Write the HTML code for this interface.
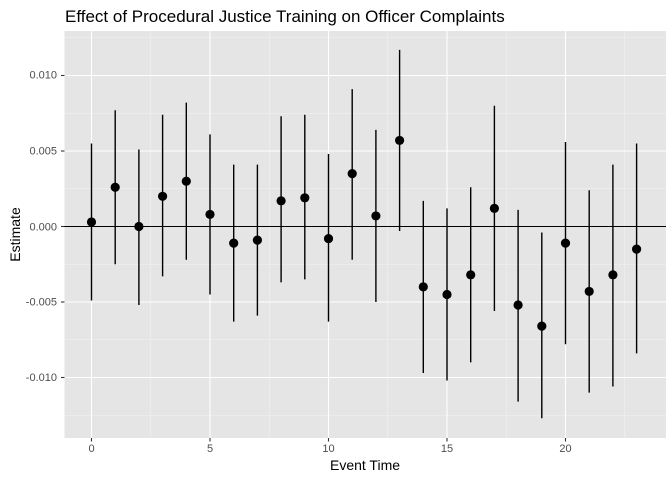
<!DOCTYPE html>
<html><head><style>
body{margin:0;background:#fff;}
svg text{font-family:"Liberation Sans",Arial,sans-serif;}
</style></head><body>
<svg id="s" width="672" height="480" xmlns="http://www.w3.org/2000/svg">
<rect x="0" y="0" width="672" height="480" fill="#fff"/>
<rect x="64.5" y="31" width="601.5" height="407" fill="#e5e5e5"/>
<g id="grid"></g>
<line x1="64.5" x2="666" y1="226.5" y2="226.5" stroke="#000" stroke-width="1.1"/>
<g id="data"></g>
<g font-size="11" fill="#4d4d4d" text-anchor="end">
<text x="57" y="78.5">0.010</text>
<text x="57" y="154.5">0.005</text>
<text x="57" y="230.5">0.000</text>
<text x="57" y="305.5">-0.005</text>
<text x="57" y="381">-0.010</text>
</g>
<g font-size="11" fill="#4d4d4d" text-anchor="middle">
<text x="91.5" y="452">0</text>
<text x="210" y="452">5</text>
<text x="328.5" y="452">10</text>
<text x="447" y="452">15</text>
<text x="565.5" y="452">20</text>
</g>
<text x="365" y="470" font-size="14" text-anchor="middle" fill="#000">Event Time</text>
<text transform="translate(20,234.5) rotate(-90)" font-size="14" text-anchor="middle" fill="#000">Estimate</text>
<text x="65" y="22" font-size="17" fill="#000">Effect of Procedural Justice Training on Officer Complaints</text>
</svg>
<script>
var NS="http://www.w3.org/2000/svg";
function el(p,t,a){var e=document.createElementNS(NS,t);for(var k in a)e.setAttribute(k,a[k]);p.appendChild(e);}
var g=document.getElementById("grid"),d=document.getElementById("data");
function Y(v){return 226.5-v*15100;}function X(t){return 91.5+t*23.7;}
[-0.0125,-0.0075,-0.0025,0.0025,0.0075,0.0125].forEach(function(v){el(g,"line",{x1:64.5,x2:666,y1:Y(v),y2:Y(v),stroke:"#f2f2f2","stroke-width":0.6});});
[2.5,7.5,12.5,17.5,22.5].forEach(function(t){el(g,"line",{y1:31,y2:438,x1:X(t),x2:X(t),stroke:"#f2f2f2","stroke-width":0.6});});
[-0.01,-0.005,0.005,0.01].forEach(function(v){el(g,"line",{x1:64.5,x2:666,y1:Y(v),y2:Y(v),stroke:"#fff","stroke-width":1.1});});
[0,5,10,15,20].forEach(function(t){el(g,"line",{y1:31,y2:438,x1:X(t),x2:X(t),stroke:"#fff","stroke-width":1.1});el(g,"line",{y1:438,y2:441.5,x1:X(t),x2:X(t),stroke:"#333","stroke-width":1.1});});
[-0.01,-0.005,0,0.005,0.01].forEach(function(v){el(g,"line",{x1:61,x2:64.5,y1:Y(v),y2:Y(v),stroke:"#333","stroke-width":1.1});});
var D=[[0.0003,-0.0049,0.0055],[0.0026,-0.0025,0.0077],[0.0000,-0.0052,0.0051],[0.0020,-0.0033,0.0074],[0.0030,-0.0022,0.0082],[0.0008,-0.0045,0.0061],[-0.0011,-0.0063,0.0041],[-0.0009,-0.0059,0.0041],[0.0017,-0.0037,0.0073],[0.0019,-0.0035,0.0074],[-0.0008,-0.0063,0.0048],[0.0035,-0.0022,0.0091],[0.0007,-0.0050,0.0064],[0.0057,-0.0003,0.0117],[-0.0040,-0.0097,0.0017],[-0.0045,-0.0102,0.0012],[-0.0032,-0.0090,0.0026],[0.0012,-0.0056,0.0080],[-0.0052,-0.0116,0.0011],[-0.0066,-0.0127,-0.0004],[-0.0011,-0.0078,0.0056],[-0.0043,-0.0110,0.0024],[-0.0032,-0.0106,0.0041],[-0.0015,-0.0084,0.0055]];
D.forEach(function(r,i){var x=X(i);el(d,"line",{x1:x,x2:x,y1:Y(r[1]),y2:Y(r[2]),stroke:"#000","stroke-width":1.4});el(d,"circle",{cx:x,cy:Y(r[0]),r:4.6,fill:"#000"});});
</script>
</body></html>
